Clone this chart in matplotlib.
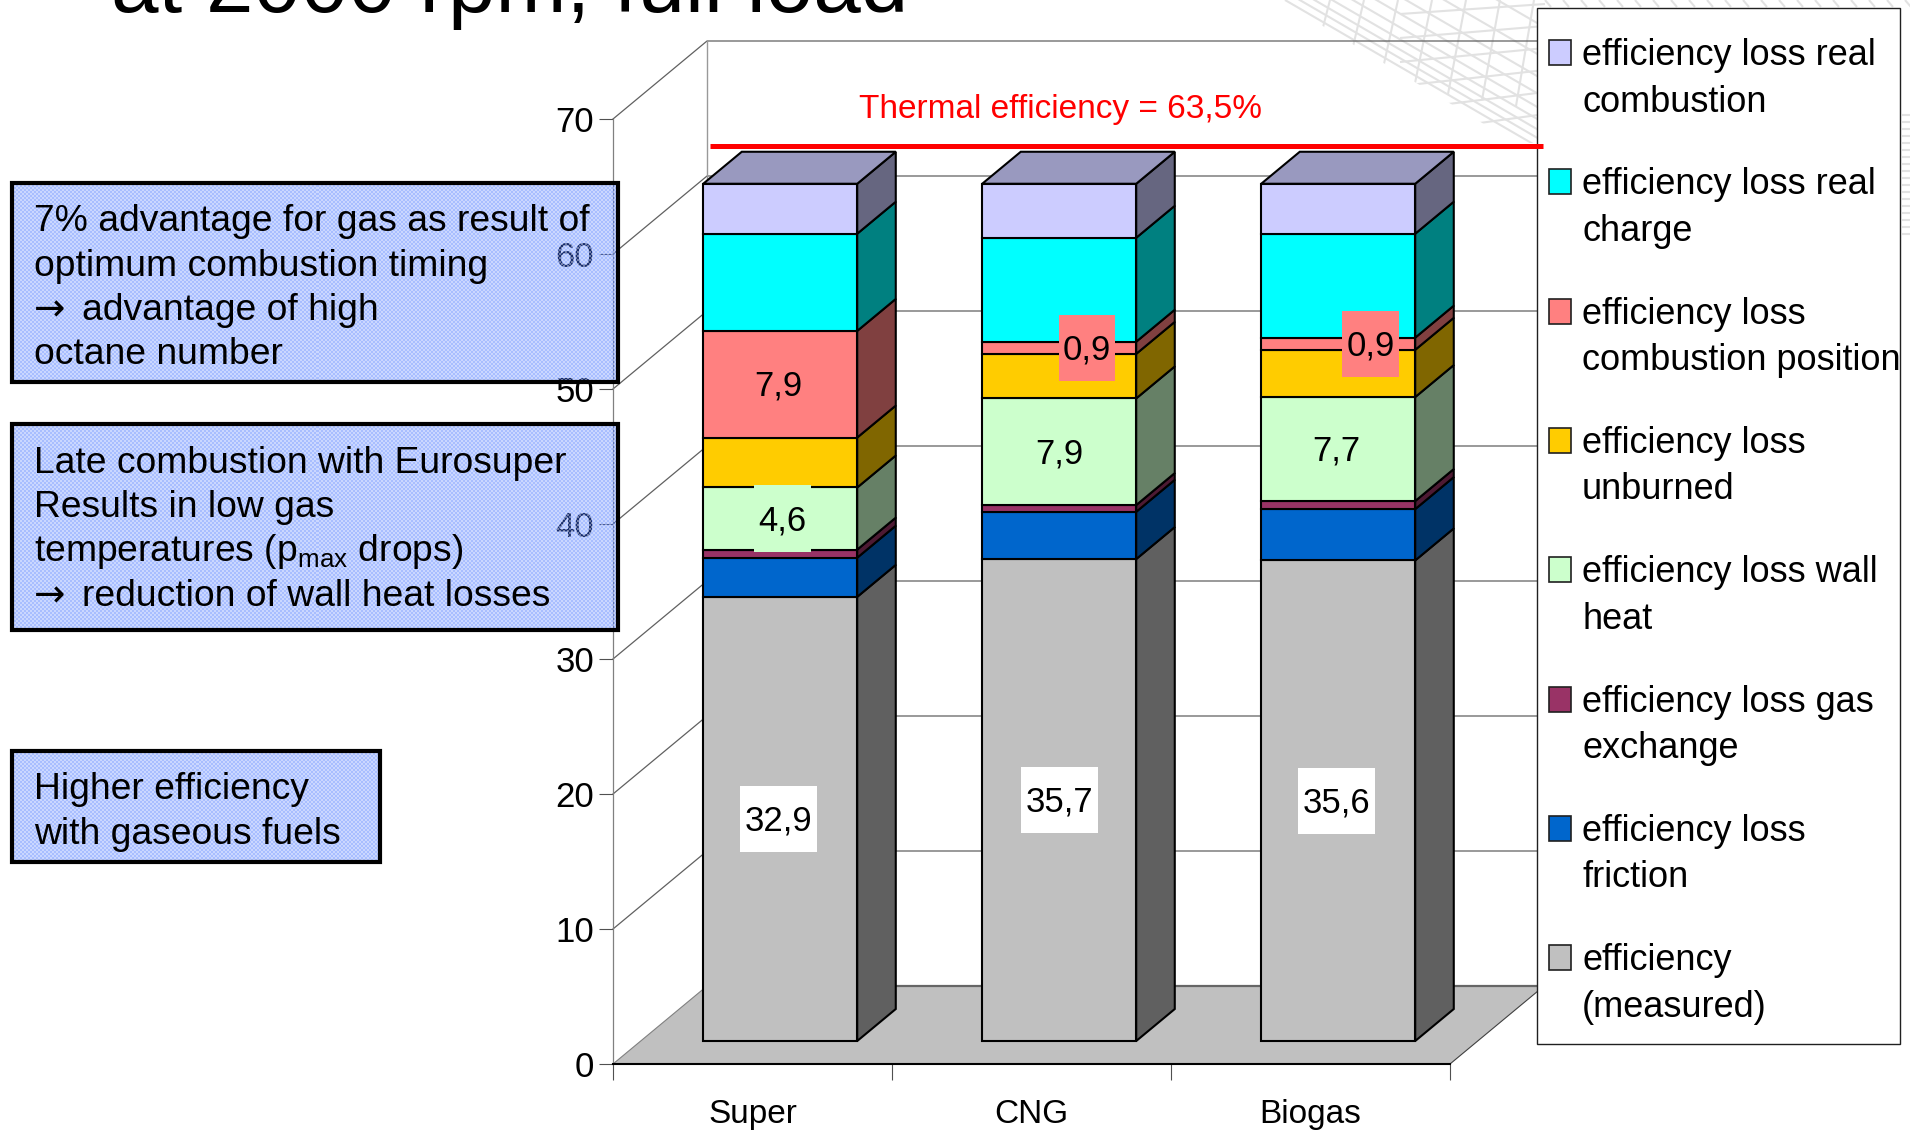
'''
Efficiency breakdown of the three fuels as 3D-look stacked columns
'''
import matplotlib
matplotlib.use("Agg")
import matplotlib.pyplot as plt
from matplotlib.collections import LineCollection
from matplotlib.patches import Polygon, Rectangle
from matplotlib.colors import to_rgb
import numpy as np

plt.rcParams['font.family'] = ['Liberation Sans', 'DejaVu Sans']
plt.rcParams['mathtext.fontset'] = 'custom'
plt.rcParams['mathtext.rm'] = 'Liberation Sans'
plt.rcParams['mathtext.default'] = 'rm'

W, H = 1910, 1131

categories = ["Super", "CNG", "Biogas"]

# bottom to top of the stack
series_names = ["efficiency\n(measured)", "efficiency loss\nfriction", "efficiency loss gas\nexchange",
                "efficiency loss wall\nheat", "efficiency loss\nunburned",
                "efficiency loss\ncombustion position", "efficiency loss real\ncharge",
                "efficiency loss real\ncombustion"]
series_colors = ["#C0C0C0", "#0066CC", "#993366", "#CCFFCC", "#FFCC00", "#FF8080", "#00FFFF", "#CCCCFF"]

measured = [32.9, 35.7, 35.6]
friction = [2.9, 3.5, 3.8]
gas_exchange = [0.6, 0.5, 0.6]
wall_heat = [4.6, 7.9, 7.7]
unburned = [3.7, 3.3, 3.5]
comb_position = [7.9, 0.9, 0.9]
real_charge = [7.2, 7.7, 7.7]
real_combustion = [3.7, 4.0, 3.7]
series = [measured, friction, gas_exchange, wall_heat, unburned, comb_position, real_charge, real_combustion]

thermal_eff = 63.5
y_ticks = [0, 10, 20, 30, 40, 50, 60, 70]

# (series index, category index, x shift of the label)
labelled = [(0, 0, -0.007), (0, 1, 0.0), (0, 2, -0.007), (5, 0, -0.007), (3, 0, 0.007),
            (3, 1, 0.0), (3, 2, -0.007), (5, 1, 0.1), (5, 2, 0.115)]

# notes on the left: box (x0, y0, x1, y1) and lines (x, baseline, text)
note_boxes = [(12, 183, 618, 382), (12, 424, 618, 630), (12, 751, 380, 862)]
note_lines = [(34, 231, "7% advantage for gas as result of"),
              (34, 276, "optimum combustion timing"),
              (82, 320, "advantage of high"),
              (34, 364, "octane number"),
              (34, 473, "Late combustion with Eurosuper"),
              (34, 517, "Results in low gas"),
              (34, 561, "temperatures (p$_{max}$ drops)"),
              (82, 606, "reduction of wall heat losses"),
              (34, 799, "Higher efficiency"),
              (34, 844, "with gaseous fuels")]
note_arrows = [(34, 320), (34, 606)]

fig = plt.figure(figsize=(W / 100, H / 100), dpi=100, facecolor="white")


def add_px_axes(zorder):
    a = fig.add_axes([0, 0, 1, 1], zorder=zorder)
    a.set_xlim(0, W)
    a.set_ylim(H, 0)
    a.axis("off")
    return a


# background mesh in the upper right corner
bg = add_px_axes(0)
mesh = []
for off in [0, 5, 10, 16, 23, 31, 41, 54, 72, 95, 125, 160, 200]:
    mesh.append([(1285 + off * 1.4, -off * 0.9 + 0), (1540 + off * 1.4, 148 - off * 0.9)])
for k in range(12):
    mesh.append([(1330 + 34 * k, 0), (1312 + 34 * k, 70 + 6 * k)])
for k in range(6):
    mesh.append([(1400, 14 + 24 * k), (1545, 4 + 22 * k)])
lines = LineCollection(mesh, colors="#E2E2E2", linewidths=1.5)
bg.add_collection(lines)
corner = Polygon([(1280, 0), (1545, 0), (1545, 143), (1515, 143)], transform=bg.transData, fc="none", ec="none")
bg.add_patch(corner)
lines.set_clip_path(corner)
bg.add_collection(LineCollection([[(1902, y), (1910, y)] for y in np.arange(115, 235, 7)],
                                 colors="#E2E2E2", linewidths=1.5))
bg.add_collection(LineCollection([[(x, 0), (x + 6, 7)] for x in np.arange(1545, 1910, 18)],
                                 colors="#E2E2E2", linewidths=1.5))

# chart axes: x in categories, y in percent, on the front plane of the box
ax = fig.add_axes([613 / W, (H - 1064) / H, 837 / W, 945 / H], zorder=1)
ax.patch.set_visible(False)
ax.set_xlim(0, 3)
ax.set_ylim(0, 70)

DX = 94 / 279   # full depth of the box, in category units
DY = 78 / 13.5  # and in percent units
BAR_D0, BAR_D1 = 0.295, 0.705
BAR_W = 0.552


def proj(x, v, d):
    return x + d * DX, v + d * DY


def face(pts, **kw):
    ax.add_patch(Polygon([proj(*p) for p in pts], closed=True, clip_on=False, **kw))


def shade(color, f):
    return tuple(c * f for c in to_rgb(color))


# walls and floor
GRID = "#606060"
for v in y_ticks[1:]:
    ax.plot(*zip(proj(0, v, 0), proj(0, v, 1), proj(3.3, v, 1)), color=GRID, lw=0.9, clip_on=False, zorder=1)
ax.plot(*zip(proj(0, 0, 1), proj(0, 70, 1)), color="#999999", lw=1, clip_on=False, zorder=1)
face([(0, 0, 0), (3, 0, 0), (3, 0, 1), (0, 0, 1)], fc="#C0C0C0", ec="none", zorder=2)
ax.plot(*zip(proj(0, 0, 1), proj(3.2, 0, 1)), color="#666666", lw=1.6, clip_on=False, zorder=2)
ax.plot(*zip(proj(0, 0, 0), proj(0, 0, 1)), color="#808080", lw=0.8, clip_on=False, zorder=2)
ax.plot(*zip(proj(3, 0, 0), proj(3, 0, 1)), color="#404040", lw=0.8, clip_on=False, zorder=2)

# columns
for c in range(len(categories)):
    x0 = c + 0.5 - BAR_W / 2
    x1 = x0 + BAR_W
    base = 0.0
    for vals, col in zip(series, series_colors):
        top = base + vals[c]
        face([(x0, base, BAR_D0), (x1, base, BAR_D0), (x1, top, BAR_D0), (x0, top, BAR_D0)],
             fc=col, ec="black", lw=1.5, zorder=3)
        face([(x1, base, BAR_D0), (x1, base, BAR_D1), (x1, top, BAR_D1), (x1, top, BAR_D0)],
             fc=shade(col, 0.5), ec="black", lw=1.5, zorder=3)
        base = top
    face([(x0, base, BAR_D0), (x1, base, BAR_D0), (x1, base, BAR_D1), (x0, base, BAR_D1)],
         fc=shade(series_colors[-1], 0.75), ec="black", lw=1.5, zorder=3)

# value labels on a patch of the segment colour
for s, c, shift in labelled:
    bottom = sum(series[i][c] for i in range(s))
    val = series[s][c]
    cx, cy = proj(c + 0.5 + shift, bottom + val / 2, BAR_D0)
    txt = "{:.1f}".format(val).replace(".", ",")
    bw = 0.276 if len(txt) > 3 else 0.203
    bc = "white" if s == 0 else series_colors[s]
    ax.add_patch(Rectangle((cx - bw / 2, cy - 2.45), bw, 4.9, fc=bc, ec="none", zorder=4, clip_on=False))
    ax.text(cx, cy + 0.1, txt, ha="center", va="center_baseline", fontsize=25, zorder=5)

ax.set_xticks(range(len(categories) + 1))
ax.set_xticklabels([])
ax.set_xticks(np.arange(len(categories)) + 0.5, categories, minor=True)
ax.set_yticks(y_ticks)
ax.tick_params(axis="x", which="major", length=11.5, width=0.8, color="#505050")
ax.tick_params(axis="x", which="minor", length=0, pad=25, labelsize=24)
ax.tick_params(axis="y", length=10, width=0.8, color="#505050", pad=3.5, labelsize=25)
for side in ["top", "right"]:
    ax.spines[side].set_visible(False)
ax.spines["left"].set_color("#808080")
ax.spines["left"].set_linewidth(0.9)
ax.spines["bottom"].set_linewidth(1.5)

# legend, title, notes
ov = add_px_axes(2)
ov.add_patch(Rectangle((1537, 8), 363, 1036, fc="white", ec="#202020", lw=1.0, zorder=1))
for i, (name, col) in enumerate(zip(series_names[::-1], series_colors[::-1])):
    y = 65 + 129.3 * i
    ov.add_patch(Rectangle((1549, y - 25), 22, 25, fc=col, ec="#202020", lw=1.2, zorder=2))
    for j, part in enumerate(name.split("\n")):
        ov.text(1582, y + 46.5 * j, part, fontsize=26, va="baseline", ha="left", zorder=2)

# thermal limit line sits at its value, just behind the columns
line_d = 0.78
ov.plot(*zip(proj(0.085, thermal_eff, line_d), proj(3.07, thermal_eff, line_d)), color="#FF0000", lw=3.6,
        solid_capstyle="butt", transform=ax.transData, zorder=3)
ov.text(1060, 118, "Thermal efficiency = 63,5%", color="#FF0000", fontsize=24, ha="center", va="baseline")

ov.text(111, 12, "at 2000 rpm, full load", fontsize=61.5, va="baseline", ha="left", clip_on=False)

for x0, y0, x1, y1 in note_boxes:
    ov.add_patch(Rectangle((x0, y0), x1 - x0, y1 - y0, fc="#3A6BFF", ec="none", alpha=0.44, zorder=4))
    # dithered fill: white dots over the blue
    yy, xx = np.mgrid[0:y1 - y0, 0:x1 - x0]
    dots = np.ones((y1 - y0, x1 - x0, 4))
    dots[..., 3] = 0.4 * (((xx // 2 + yy // 2) % 2) == 0)
    ov.imshow(dots, extent=(x0, x1, y1, y0), interpolation="nearest", aspect="auto", zorder=4)
    ov.add_patch(Rectangle((x0, y0), x1 - x0, y1 - y0, fc="none", ec="black", lw=3, zorder=5))
ov.set_xlim(0, W)
ov.set_ylim(H, 0)
for x, y, txt in note_lines:
    ov.text(x, y, txt, fontsize=26.8, va="baseline", ha="left", zorder=6)
for x, y in note_arrows:
    ov.text(x, y, "\u2192", fontsize=27, va="baseline", ha="left", zorder=6, family="DejaVu Sans")

fig.savefig("out.png", dpi=100)
